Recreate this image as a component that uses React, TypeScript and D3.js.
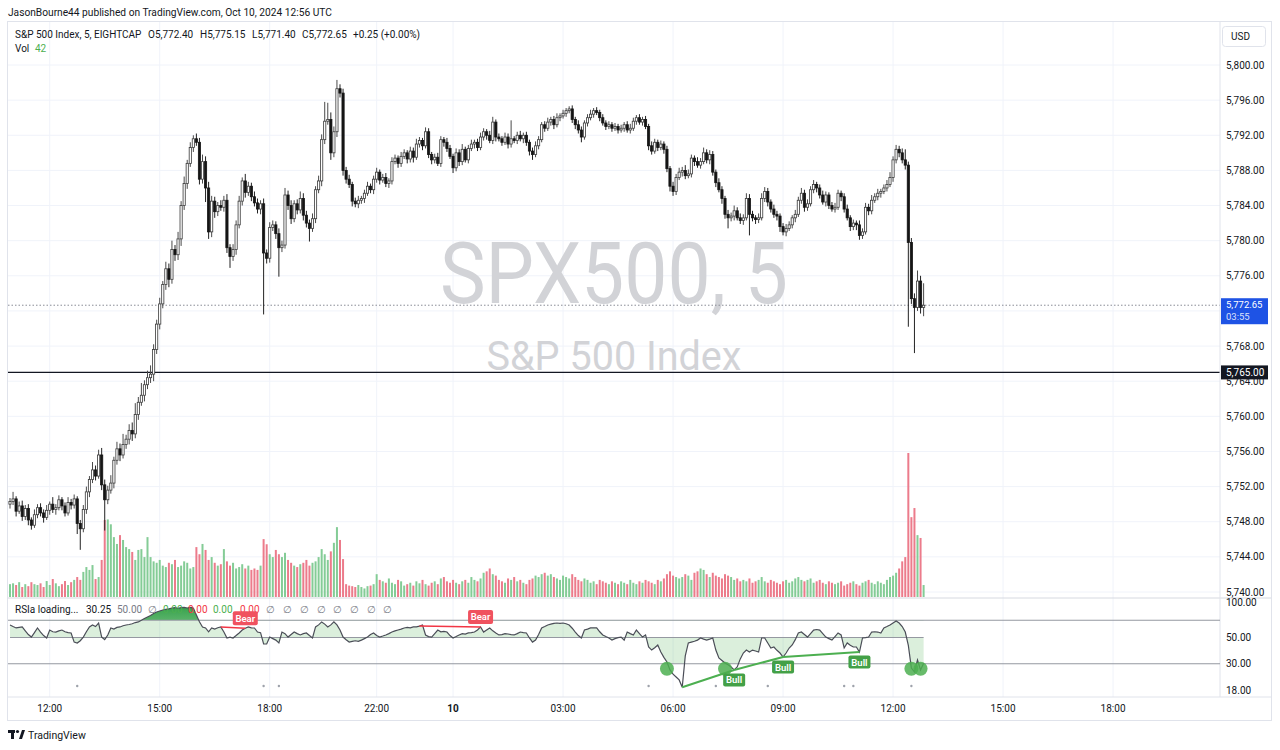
import React from 'react';
import * as d3 from 'd3';

// ---------- DATA ----------
const firstOpen = 5750.0;

const closes = [
  5750.3, 5750.6, 5749.2, 5749.8, 5748.6, 5749.5, 5748.2, 5747.6, 5748.8, 5749.6,
  5749.0, 5748.5, 5749.3, 5750.0, 5749.4, 5749.6, 5750.5, 5749.8, 5749.0, 5750.2,
  5749.9, 5750.6, 5747.8, 5747.2, 5749.4, 5751.4, 5752.8, 5753.9, 5753.2, 5755.6,
  5752.2, 5750.5, 5751.6, 5752.4, 5755.0, 5756.3, 5755.6, 5756.8, 5757.4, 5758.4,
  5758.0, 5760.2, 5761.6, 5762.4, 5763.6, 5764.4, 5764.8, 5767.6, 5770.5, 5772.8,
  5775.0, 5776.8, 5775.6, 5779.0, 5778.4, 5780.2, 5784.0, 5786.5, 5788.8, 5790.6,
  5791.6, 5791.2, 5787.0, 5789.0, 5786.0, 5781.0, 5784.5, 5783.3, 5784.0, 5783.8,
  5784.6, 5779.2, 5778.2, 5779.0, 5781.8, 5784.5, 5786.8, 5785.5, 5786.2, 5785.0,
  5784.3, 5783.6, 5784.2, 5778.6, 5778.0, 5781.5, 5781.8, 5780.8, 5779.2, 5779.5,
  5785.2, 5784.0, 5782.5, 5784.2, 5783.5, 5784.8, 5782.9, 5782.0, 5781.4, 5782.5,
  5785.8, 5786.8, 5791.5, 5793.6, 5793.8, 5790.0, 5792.4, 5797.3, 5796.8, 5788.0,
  5787.0, 5786.4, 5784.5, 5784.2, 5784.6, 5784.8, 5785.4, 5786.2, 5785.8, 5787.0,
  5787.8, 5786.9, 5787.2, 5786.5, 5786.8, 5789.0, 5789.4, 5788.8, 5789.6, 5790.0,
  5789.3, 5790.2, 5789.5, 5791.0, 5791.4, 5790.8, 5792.4, 5789.8, 5789.2, 5789.5,
  5788.8, 5791.5, 5791.2, 5790.5, 5789.6, 5788.3, 5790.0, 5789.0, 5790.4, 5789.2,
  5790.5, 5791.0, 5791.2, 5790.6, 5791.8, 5792.4, 5792.0, 5791.4, 5793.5, 5791.8,
  5791.6, 5791.2, 5791.8, 5791.0, 5791.6, 5791.4, 5792.0, 5791.6, 5792.0, 5791.2,
  5790.2, 5789.8, 5790.8, 5791.5, 5793.2, 5792.8, 5793.5, 5793.8, 5793.2, 5794.0,
  5794.2, 5794.5, 5794.8, 5795.0, 5793.8, 5793.2, 5792.6, 5791.8, 5793.4, 5794.0,
  5794.4, 5794.8, 5794.6, 5794.0, 5793.4, 5793.0, 5793.2, 5792.8, 5793.0, 5792.6,
  5792.8, 5793.2, 5792.6, 5792.8, 5793.6, 5794.0, 5793.5, 5793.8, 5793.0, 5790.8,
  5790.2, 5791.2, 5790.6, 5791.0, 5790.4, 5788.2, 5786.2, 5785.6, 5787.2, 5787.8,
  5788.0, 5787.4, 5787.6, 5789.4, 5789.0, 5788.6, 5789.0, 5790.0, 5789.2, 5789.8,
  5787.8, 5786.6, 5785.8, 5784.8, 5783.0, 5782.6, 5782.8, 5783.4, 5782.6, 5782.3,
  5782.6, 5784.8, 5783.0, 5782.6, 5782.4, 5782.6, 5784.8, 5785.6, 5784.4, 5783.6,
  5783.0, 5782.8, 5781.6, 5781.0, 5781.4, 5781.8, 5782.6, 5783.0, 5784.6, 5785.4,
  5783.8, 5784.2, 5785.8, 5786.4, 5786.0, 5785.2, 5784.4, 5785.2, 5784.0, 5783.6,
  5783.8, 5785.4, 5785.0, 5783.6, 5782.6, 5781.6, 5782.0, 5781.8, 5780.6, 5781.0,
  5783.8, 5783.4, 5784.6, 5785.0, 5785.4, 5785.6, 5786.0, 5786.4, 5787.2, 5789.2,
  5790.4, 5790.0, 5789.2, 5788.6, 5779.8, 5773.4, 5772.4, 5775.4, 5772.4, 5772.65,
];

const upperWicks = [
  .4, .8, .3, .5, .6, .4, .5, .3, .6, .4,
  .5, .4, .6, .3, .8, .4, .5, .3, .4, .6,
  .4, .5, .3, .4, .5, .6, .4, .9, .5, .6,
  .8, .6, .5, .9, .4, .8, .6, 1.2, .5, .7,
  .9, 1.3, .6, 1.4, .5, .8, 1.0, .6, .5, .7,
  .4, .8, .6, 1.0, .5, .8, .5, .8, .4, .6,
  .4, .6, .5, .8, .6, .7, .6, .5, .4, .6,
  .5, .7, .4, .6, .5, .6, .4, .8, .5, .4,
  .6, .5, .4, .6, .4, .6, .5, .4, .6, .5,
  .8, .5, .6, .4, .5, .8, .6, .5, .4, .6,
  .4, .6, .6, 2.2, 1.9, .8, .6, 1.0, .5, .5,
  .4, .5, .3, .4, .5, .3, .4, .5, .3, .4,
  .5, .3, .4, .5, .3, .5, .4, .3, .5, .4,
  .3, .5, .4, .6, .4, .3, .5, .4, .3, .4,
  .5, .4, .3, .5, .4, .3, .5, .4, .6, .3,
  .4, .5, .3, .4, .5, .4, .3, .5, .6, .3,
  .4, .3, .5, .4, 2.1, .3, .4, .5, .3, .4,
  .3, .4, .5, .4, .3, .4, .5, .3, .4, .5,
  .3, .4, .3, .3, .4, .3, .5, .4, .3, .4,
  .5, .3, .4, .3, .4, .3, .4, .3, .4, .3,
  .4, .3, .4, .5, .4, .3, .4, .3, .4, .3,
  .5, .4, .3, .4, .3, .4, .3, .5, .4, .5,
  .4, .6, .5, .4, .3, .5, .4, .6, .4, .5,
  .4, .3, .5, .4, .3, .5, .4, .6, .4, .5,
  .4, .6, .5, .4, .3, .5, .6, .5, .4, .3,
  .5, .4, .3, .4, .5, .4, .3, .5, .4, .6,
  .4, .5, .4, .5, .3, .4, .5, .4, .3, .4,
  .5, .4, .3, .4, .5, .3, .4, .3, .5, .4,
  .5, .4, .6, .4, .5, .3, .4, .5, .6, .4,
  .5, .4, .5, 1.2, .4, .5, .6, 1.2, .6, 2.5,
];

const lowerWicks = [
  .5, .4, .6, .3, .5, .4, .6, .5, .3, .4,
  .4, .6, .3, .5, .4, .6, .3, .5, .4, .3,
  .5, .4, 1.2, 2.4, .4, .5, .6, .4, .5, .3,
  .6, 3.5, .5, .4, .6, .5, .7, .4, .5, .6,
  .8, .5, .6, .4, .7, .5, .6, .8, .5, .6,
  .5, .6, .9, .5, .7, .6, .8, .5, .6, .4,
  .5, .4, .6, .5, 1.6, .8, .6, .7, .5, .4,
  .5, .6, 1.3, .5, .6, .4, .5, .6, .4, .5,
  .4, .5, .6, 7.0, .6, .5, .4, .6, 3.3, .5,
  .4, .5, .6, .4, .5, .4, .6, .5, 1.5, .4,
  .5, .4, .6, .5, .4, .8, .5, .6, .5, .6,
  .5, .4, .6, .4, .5, .4, .5, .3, .4, .5,
  .4, .5, .3, .4, .5, .4, .3, .5, .4, .3,
  .5, .4, .6, .3, .4, .5, .3, .4, .5, .4,
  .3, .4, .5, .4, .3, .6, .4, .5, .4, .3,
  .4, .3, .5, .4, .3, .4, .5, .3, .4, .5,
  .3, .4, .3, .5, .4, .3, .4, .3, .5, .4,
  .5, .6, .3, .4, .3, .4, .3, .4, .5, .3,
  .4, .3, .4, .3, .4, .5, .4, .6, .3, .4,
  .3, .4, .3, .4, .3, .4, .3, .4, .3, .4,
  .3, .4, .3, .4, .3, .4, .3, .4, .3, .5,
  .4, .3, .4, .3, .5, .4, .6, .5, .4, .3,
  .5, .4, .3, .4, .5, .3, .4, .3, .4, .5,
  .4, .5, .3, .6, .5, 1.2, .4, .5, .3, .4,
  .5, .3, 2.4, .4, .5, .4, .3, .4, .5, .4,
  .4, .5, .6, .4, .5, .3, .4, .5, .3, .4,
  .5, .4, .3, .4, .5, .4, .3, .5, .4, .3,
  .4, .3, .5, .4, .3, .5, .4, .6, .5, .4,
  .3, .5, .4, .3, .4, .5, .3, .4, .3, .5,
  .4, .5, .4, .5, 9.6, .6, 5.2, .4, .7, 1.0,
];

const volumes = [
  45, 48, 42, 52, 35, 45, 38, 52, 45, 42,
  48, 35, 56, 42, 63, 48, 38, 45, 56, 42,
  52, 60, 70, 60, 88, 105, 95, 112, 63, 70,
  130, 270, 272, 255, 210, 186, 217, 200, 175, 168,
  158, 130, 165, 168, 140, 210, 140, 125, 120, 130,
  110, 105, 120, 115, 130, 105, 110, 125, 120, 100,
  105, 175, 150, 186, 165, 130, 140, 120, 110, 115,
  168, 125, 110, 120, 100, 105, 115, 100, 110, 95,
  100, 95, 110, 203, 185, 150, 140, 165, 150, 140,
  155, 130, 120, 110, 105, 115, 120, 130, 110, 120,
  125, 140, 168, 150, 130, 160, 190, 245, 200, 133,
  45, 40, 38, 35, 42, 35, 30, 38, 40, 45,
  80, 60, 55, 50, 65, 50, 45, 60, 55, 40,
  45, 50, 40, 55, 48, 60, 45, 40, 50, 55,
  45, 65, 70, 55, 50, 60, 50, 45, 55, 60,
  50, 70, 60, 55, 65, 85, 90, 100, 80, 75,
  60, 55, 50, 65, 60, 70, 55, 60, 50, 45,
  60, 65, 75, 70, 80, 85, 75, 80, 70, 65,
  60, 75, 70, 65, 80, 70, 60, 55, 65, 60,
  50, 55, 45, 60, 55, 50, 45, 55, 50, 45,
  55, 50, 45, 60, 50, 45, 55, 50, 60, 55,
  50, 45, 60, 55, 65, 80, 90, 75, 70, 65,
  70, 80, 75, 60, 85, 90, 100, 95, 80, 70,
  85, 75, 70, 65, 80, 75, 70, 60, 65, 55,
  60, 55, 65, 50, 55, 60, 70, 55, 50, 60,
  55, 50, 45, 55, 60, 50, 55, 65, 70, 60,
  55, 60, 65, 50, 55, 60, 50, 45, 55, 50,
  45, 50, 55, 40, 45, 50, 55, 45, 40, 50,
  55, 60, 50, 45, 55, 50, 45, 60, 70, 75,
  85, 100, 125, 140, 505, 280, 312, 217, 207, 42,
];

const rsiValues = [
  63.9, 62, 60.3, 61, 61.5, 57, 53, 50.5, 55, 60.3,
  55.7, 52, 49.6, 57.9, 56, 55.7, 57, 57.9, 56, 55,
  54.7, 45.8, 45.0, 47, 50.5, 56, 61.5, 63.9, 62, 66.4,
  50.5, 48, 52.6, 60.3, 59, 61, 61.5, 63, 63.9, 64.5,
  65.5, 67, 67.8, 70, 72.5, 74.7, 77, 80, 82.3, 84,
  85.6, 86.5, 87.5, 89, 89.5, 88.5, 89.5, 90, 89, 90,
  89, 77.6, 68, 61.5, 60.3, 56, 60.3, 59, 60.5, 61.5,
  55.7, 49.6, 50.5, 49.6, 52, 54.7, 58, 60, 61.5, 60.5,
  60.3, 55.7, 55, 44.1, 44.1, 50.5, 49, 47.6, 45.0, 55.7,
  54, 50.5, 53, 55.7, 54, 52.6, 54, 54.7, 52, 49.6,
  61.5, 64, 67.8, 65, 61.5, 64, 67.8, 64, 57.9, 50.5,
  48, 45.8, 46.5, 47, 46.5, 47.6, 49, 50.5, 53, 54.7,
  52, 50.5, 51.5, 52.6, 54, 55.7, 57, 58, 59, 60.3,
  61, 60.5, 61.5, 61.5, 62.5, 63.9, 52.6, 51, 50.5, 54,
  57.9, 56, 56.5, 55.7, 52, 49.6, 51, 52.6, 54, 53.5,
  54.7, 55, 55.7, 58, 61.5, 55.7, 58, 60.3, 57, 54.7,
  52.6, 53, 54, 53.6, 53, 52.6, 54, 55.7, 55, 54.7,
  49.6, 45.8, 47.6, 53, 60.3, 62, 63.9, 65, 66, 66.4,
  66, 66.4, 65.5, 63.9, 60, 55.7, 52, 49.6, 57.9, 59,
  60.3, 60.5, 60.3, 56, 52.6, 51, 49.6, 47.6, 49, 50,
  50.5, 47.6, 55.7, 54, 52.6, 57.9, 54, 50.5, 52.6, 41.6,
  39.2, 41, 43.3, 37.7, 34, 31.1, 26.6, 24.5, 23.2, 21.9,
  19.0, 35, 45, 45.8, 46.5, 47.6, 49.6, 48.5, 47.6, 48.5,
  49.6, 39.2, 33.6, 32, 30.5, 29.5, 28.2, 26.6, 28.2, 33,
  37.0, 39.2, 37.7, 39.2, 38.5, 37.7, 49.6, 49.6, 45, 40.8,
  41.6, 39, 37.0, 34.2, 37, 40.8, 43.3, 48, 54.7, 55.7,
  53, 50.5, 54, 57.9, 58.5, 57.9, 54, 50.5, 49, 47.6,
  51, 54.7, 52.6, 40.8, 45.0, 43, 41.6, 41.6, 37.7, 49.6,
  50, 50.5, 55.7, 56, 55.7, 54.7, 60.3, 62, 63.9, 66.5,
  69.1, 66.4, 62, 55.7, 43, 27.6, 25.6, 32.3, 26.6, 30.25,
];

// tick labels (5,772.00 sits fully under the last-price tag, so it is not listed)
const priceTicks = [5740, 5744, 5748, 5752, 5756, 5760, 5764, 5768, 5776, 5780, 5784, 5788, 5792, 5796, 5800];
const gridPrices = [5740, 5744, 5748, 5752, 5756, 5760, 5764, 5768, 5772, 5776, 5780, 5784, 5788, 5792, 5796, 5800];
const timeTickIndex = [13, 49, 85, 120, 145, 181, 217, 253, 289, 325, 361];
const timeTickLabels = ['12:00', '15:00', '18:00', '22:00', '10', '03:00', '06:00', '09:00', '12:00', '15:00', '18:00'];
const rsiAxisTicks = [100, 50, 30, 18];
const rsiBands = [70, 30];
const rsiMid = 50;
const lastPrice = 5772.65;
const levelPrice = 5765;
const bearLines = [[69, 77], [134, 154]];
const bearLabelIdx = [77, 154];
const bullLines = [[220, 237], [237, 253], [253, 278]];
const bullLabelIdx = [237, 253, 278];
const bullCircleIdx = [215, 234, 295, 298];
const signalDotIdx = [22, 83, 88, 209, 231, 248, 273, 276, 295];

// ---------- CHART ----------
const FONT = "Roboto, 'Liberation Sans', Arial, sans-serif";
const TXT = '#131722';

export default function App() {
  const step = 110 / 36;
  const x = d3.scaleLinear().domain([0, 396]).range([10, 10 + 396 * step]);
  const y = d3.scaleLinear().domain([5740, 5800]).range([592, 65]);
  const vy = d3.scaleLinear().domain([0, d3.max(volumes) as number]).range([597, 453]);
  const ry = d3.scaleLog().domain([18, 100]).range([690, 602]);

  const plotL = 8, plotR = 1220, mainTop = 22, mainBot = 598, rsiBot = 697;

  const bars = closes.map((c, i) => {
    const o = i === 0 ? firstOpen : closes[i - 1];
    return { i, o, c, h: Math.max(o, c) + upperWicks[i], l: Math.min(o, c) - lowerWicks[i], v: volumes[i] };
  });

  const rsiLine = d3.line<number>().x((_, i) => x(i)).y((v) => ry(v))(rsiValues) as string;
  const rsiArea = d3.area<number>().x((_, i) => x(i)).y0(ry(rsiMid)).y1((v) => ry(v))(rsiValues) as string;
  const obArea = d3.area<number>().x((_, i) => x(i)).y0(ry(70)).y1((v) => ry(v))(rsiValues) as string;

  const fmt = d3.format(',.2f');
  const green = '#4caf50';
  const red = '#f23645';

  return (
    <svg width={1280} height={750} style={{ position: 'absolute', left: 0, top: 0, background: '#fff' }} fontFamily={FONT}>
      <defs>
        <clipPath id="mainClip"><rect x={plotL} y={mainTop} width={plotR - plotL} height={mainBot - mainTop} /></clipPath>
        <clipPath id="rsiBandClip"><rect x={plotL} y={ry(70)} width={plotR - plotL} height={ry(30) - ry(70)} /></clipPath>
        <clipPath id="rsiObClip"><rect x={plotL} y={mainBot} width={plotR - plotL} height={ry(70) - mainBot} /></clipPath>
        <linearGradient id="obGrad" x1="0" y1="0" x2="0" y2="1">
          <stop offset="0" stopColor="#2e9e45" stopOpacity={0.95} />
          <stop offset="1" stopColor="#4caf50" stopOpacity={0.1} />
        </linearGradient>
      </defs>
      <rect x={0} y={0} width={1280} height={750} fill="#fff" />

      {/* publisher header */}
      <text x={8} y={16} fontSize={10.2} fill={TXT}>JasonBourne44 published on TradingView.com, Oct 10, 2024 12:56 UTC</text>

      {/* frame */}
      <rect x={7.5} y={21.5} width={1264} height={699} fill="none" stroke="#e0e3eb" />

      {/* grid */}
      {gridPrices.map((p) => (
        <line key={'hg' + p} x1={plotL} x2={plotR} y1={y(p)} y2={y(p)} stroke="#f0f3fa" />
      ))}
      {timeTickIndex.map((t) => (
        <line key={'vg' + t} x1={x(t)} x2={x(t)} y1={mainTop} y2={rsiBot} stroke="#f0f3fa" />
      ))}

      {/* watermark */}
      <text x={614} y={303} fontSize={86} fill="#d2d3d7" textAnchor="middle" textLength={348} lengthAdjust="spacingAndGlyphs">SPX500, 5</text>
      <text x={614} y={370} fontSize={41} fill="#d2d3d7" textAnchor="middle" textLength={255} lengthAdjust="spacingAndGlyphs">S&amp;P 500 Index</text>

      {/* legend */}
      <text y={38} fontSize={10} fill={TXT}>
        <tspan x={15}>S&amp;P 500 Index, 5, EIGHTCAP</tspan>
        <tspan x={148}>O5,772.40</tspan>
        <tspan x={200}>H5,775.15</tspan>
        <tspan x={252}>L5,771.40</tspan>
        <tspan x={302}>C5,772.65</tspan>
        <tspan x={353}>+0.25 (+0.00%)</tspan>
      </text>
      <text y={52} fontSize={10} fill={TXT}>
        <tspan x={15}>Vol</tspan>
        <tspan x={35} fill="#4caf50">42</tspan>
      </text>

      <g clipPath="url(#mainClip)">
        {/* volume */}
        {bars.map((b) => (
          <rect key={'v' + b.i} x={x(b.i) - 1} width={2} y={vy(b.v)} height={597 - vy(b.v)}
            fill={b.c >= b.o ? '#84cc96' : '#ec7b8b'} />
        ))}
        {/* price lines */}
        <line x1={plotL} x2={plotR} y1={y(lastPrice)} y2={y(lastPrice)} stroke="#8a8d96" strokeDasharray="1.5,2" />
        <line x1={plotL} x2={plotR} y1={y(levelPrice)} y2={y(levelPrice)} stroke="#131722" strokeWidth={1.2} />
        {/* candles */}
        {bars.map((b) => {
          const cx = x(b.i);
          const up = b.c >= b.o;
          const top = y(Math.max(b.o, b.c));
          const hgt = Math.max(1, y(Math.min(b.o, b.c)) - top);
          return (
            <g key={'c' + b.i}>
              <line x1={cx} x2={cx} y1={y(b.h)} y2={y(b.l)} stroke={up ? '#4a4a4a' : '#222'} strokeWidth={1} />
              <rect x={cx - 1.1} width={2.2} y={top} height={hgt}
                fill={up ? '#ffffff' : '#151515'} stroke={up ? '#3a3a3a' : '#151515'} strokeWidth={0.8} />
            </g>
          );
        })}
      </g>

      {/* pane separators */}
      <line x1={plotL} x2={1271} y1={mainBot} y2={mainBot} stroke="#d6d9e0" />
      <line x1={plotL} x2={1271} y1={rsiBot} y2={rsiBot} stroke="#e0e3eb" />
      <line x1={plotR} x2={plotR} y1={mainTop} y2={rsiBot} stroke="#e0e3eb" />

      {/* RSI pane */}
      <g clipPath="url(#rsiBandClip)">
        <path d={rsiArea} fill="#4caf50" fillOpacity={0.2} />
      </g>
      <g clipPath="url(#rsiObClip)">
        <path d={obArea} fill="url(#obGrad)" />
      </g>
      {rsiBands.map((b) => (
        <line key={'band' + b} x1={plotL} x2={plotR} y1={ry(b)} y2={ry(b)} stroke="#9598a1" strokeWidth={1.1} />
      ))}
      <line x1={x(0)} x2={x(rsiValues.length - 1)} y1={ry(rsiMid)} y2={ry(rsiMid)} stroke="#9598a1" strokeWidth={1.1} />
      <path d={rsiLine} fill="none" stroke="#4a4d57" strokeWidth={1.2} />

      {/* divergence lines */}
      {bearLines.map(([a, b], k) => (
        <line key={'bl' + k} x1={x(a)} y1={ry(rsiValues[a])} x2={x(b)} y2={ry(rsiValues[b])} stroke={red} strokeWidth={1.5} />
      ))}
      {bullLines.map(([a, b], k) => (
        <line key={'gl' + k} x1={x(a)} y1={ry(rsiValues[a])} x2={x(b)} y2={ry(rsiValues[b])} stroke={green} strokeWidth={2} />
      ))}
      {bullCircleIdx.map((i, k) => (
        <circle key={'bc' + k} cx={x(i)} cy={ry(27.2)} r={7} fill={green} fillOpacity={0.85} />
      ))}
      {signalDotIdx.map((i, k) => (
        <circle key={'sd' + k} cx={x(i)} cy={686} r={1.2} fill="#9ea2ab" />
      ))}

      {/* RSI header */}
      <text y={613} fontSize={10} fill={TXT}>
        <tspan x={15}>RSIa loading...</tspan>
        <tspan x={86}>30.25</tspan>
        <tspan x={117} fill="#787b86">50.00</tspan>
        <tspan x={148} fill="#787b86">∅</tspan>
        <tspan x={163} fill={green}>0.00</tspan>
        <tspan x={188} fill={red}>0.00</tspan>
        <tspan x={213} fill={green}>0.00</tspan>
        <tspan x={240} fill={red}>0.00</tspan>
        {[266, 283, 300, 317, 333, 350, 367, 383].map((px) => (
          <tspan key={'e' + px} x={px} fill="#787b86">∅</tspan>
        ))}
      </text>

      {/* Bear / Bull labels */}
      {bearLabelIdx.map((i, k) => {
        const cx = x(i);
        const cy = ry(rsiValues[i]) - 10;
        return (
          <g key={'bear' + k}>
            <rect x={cx - 12.5} y={cy - 7} width={25} height={14} rx={2} fill="#f0525f" />
            <text x={cx} y={cy + 3.5} fontSize={9.5} fill="#fff" textAnchor="middle" fontWeight={600}>Bear</text>
          </g>
        );
      })}
      {bullLabelIdx.map((i, k) => {
        const cx = x(i);
        const cy = ry(rsiValues[i]) + 10;
        return (
          <g key={'bull' + k}>
            <rect x={cx - 11} y={cy - 6.5} width={22} height={13} rx={2} fill="#43a047" />
            <text x={cx} y={cy + 3.5} fontSize={9.5} fill="#fff" textAnchor="middle" fontWeight={600}>Bull</text>
          </g>
        );
      })}

      {/* price axis */}
      <rect x={1222.5} y={26.5} width={43} height={20} rx={3} fill="#fff" stroke="#e0e3eb" />
      <text x={1231} y={40} fontSize={10} fill={TXT}>USD</text>
      {priceTicks.map((p) => (
        <text key={'pt' + p} x={1226} y={y(p) + 3.5} fontSize={10} fill={TXT}>{fmt(p)}</text>
      ))}
      {rsiAxisTicks.map((v) => (
        <text key={'rt' + v} x={1226} y={ry(v) + 3.5} fontSize={10} fill={TXT}>{fmt(v)}</text>
      ))}
      {/* last price label */}
      <rect x={1221} y={y(lastPrice) - 7} width={47} height={26} fill="#1e53e5" />
      <text x={1226} y={y(lastPrice) + 2.5} fontSize={9.5} fill="#fff">{fmt(lastPrice)}</text>
      <text x={1226} y={y(lastPrice) + 15} fontSize={9.5} fill="#fff" fillOpacity={0.85}>03:55</text>
      {/* horizontal level label */}
      <rect x={1221} y={y(levelPrice) - 7} width={47} height={14} fill="#131722" />
      <text x={1226} y={y(levelPrice) + 3.5} fontSize={10} fill="#fff">{fmt(levelPrice)}</text>

      {/* time axis */}
      {timeTickIndex.map((t, k) => (
        <text key={'tt' + k} x={x(t)} y={712} fontSize={10} fill={TXT} textAnchor="middle"
          fontWeight={timeTickLabels[k] === '10' ? 700 : 400}>{timeTickLabels[k]}</text>
      ))}

      {/* footer logo */}
      <g fill="#131722">
        <rect x={8} y={730} width={7} height={3} />
        <rect x={11} y={730} width={3} height={9} />
        <circle cx={17.5} cy={731.5} r={1.6} />
        <polygon points="19,739 22,730 25,730 22,739" />
      </g>
      <text x={28} y={739} fontSize={10.5} fill={TXT}>TradingView</text>
    </svg>
  );
}
